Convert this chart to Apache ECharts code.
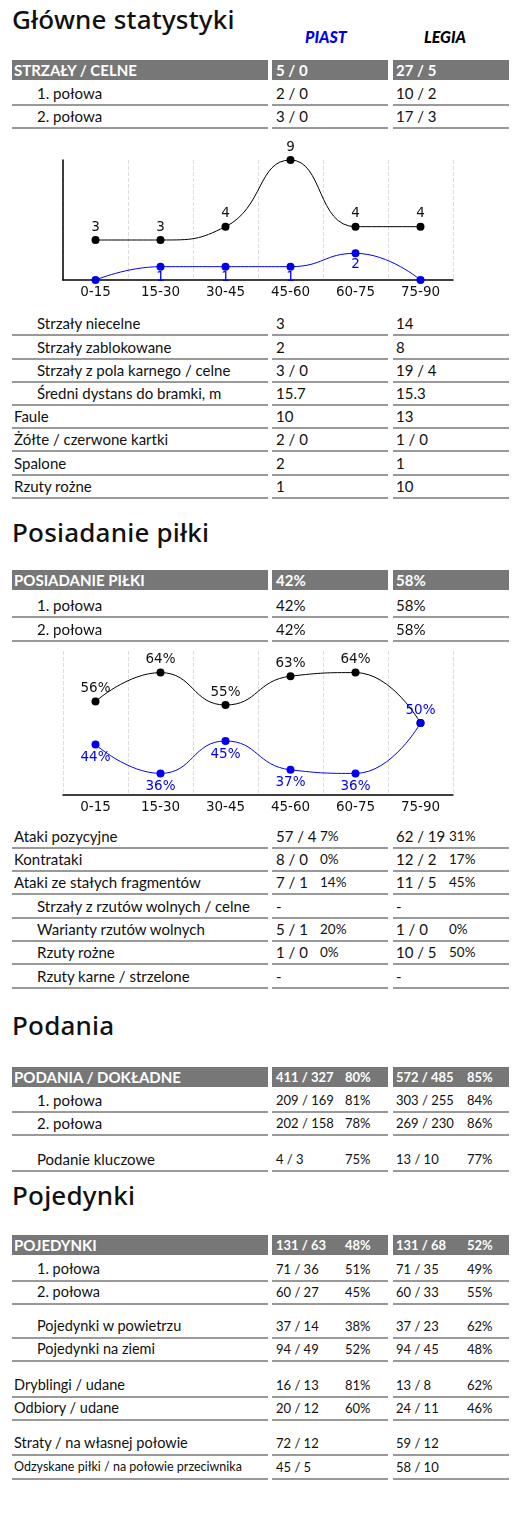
<!DOCTYPE html>
<html><head><meta charset="utf-8">
<script src="https://cdn.jsdelivr.net/npm/echarts@6/dist/echarts.min.js"></script>
<style>
body{margin:0;width:528px;height:1516px;position:relative;background:#fff;font-family:Lato,"Noto Sans",sans-serif;color:#111;overflow:hidden}
.t{position:absolute;white-space:nowrap}
.hdr{position:absolute;background:#777;height:20px}
.ln{position:absolute;height:2px;background:#999}
#c1{position:absolute;left:0;top:130px;width:528px;height:175px}
#c2{position:absolute;left:0;top:640px;width:528px;height:175px}
</style></head><body>
<div id="c1"></div><div id="c2"></div>
<script>
const titles=["Główne statystyki","Posiadanie piłki","Podania","Pojedynki"];
const teams=["PIAST","LEGIA"];
const periods=["0-15","15-30","30-45","45-60","60-75","75-90"];
const shotsPiast=[0,1,1,1,2,0];
const shotsLegia=[3,3,4,9,4,4];
const possPiast=[44,36,45,37,36,50];
const possLegia=[56,64,55,63,64,50];
// [label, indentLevel, piast, piastPct, legia, legiaPct]
const rows1=[["STRZAŁY / CELNE",0,"5 / 0","","27 / 5",""],["1. połowa",1,"2 / 0","","10 / 2",""],["2. połowa",1,"3 / 0","","17 / 3",""],
["Strzały niecelne",1,"3","","14",""],["Strzały zablokowane",1,"2","","8",""],["Strzały z pola karnego / celne",1,"3 / 0","","19 / 4",""],
["Średni dystans do bramki, m",1,"15.7","","15.3",""],["Faule",0,"10","","13",""],["Żółte / czerwone kartki",0,"2 / 0","","1 / 0",""],
["Spalone",0,"2","","1",""],["Rzuty rożne",0,"1","","10",""]];
const rows2=[["POSIADANIE PIŁKI",0,"42%","","58%",""],["1. połowa",1,"42%","","58%",""],["2. połowa",1,"42%","","58%",""],
["Ataki pozycyjne",0,"57 / 4","7%","62 / 19","31%"],["Kontrataki",0,"8 / 0","0%","12 / 2","17%"],["Ataki ze stałych fragmentów",0,"7 / 1","14%","11 / 5","45%"],
["Strzały z rzutów wolnych / celne",1,"-","","-",""],["Warianty rzutów wolnych",1,"5 / 1","20%","1 / 0","0%"],["Rzuty rożne",1,"1 / 0","0%","10 / 5","50%"],
["Rzuty karne / strzelone",1,"-","","-",""]];
const rows3=[["PODANIA / DOKŁADNE",0,"411 / 327","80%","572 / 485","85%"],["1. połowa",1,"209 / 169","81%","303 / 255","84%"],
["2. połowa",1,"202 / 158","78%","269 / 230","86%"],["Podanie kluczowe",1,"4 / 3","75%","13 / 10","77%"]];
const rows4=[["POJEDYNKI",0,"131 / 63","48%","131 / 68","52%"],["1. połowa",1,"71 / 36","51%","71 / 35","49%"],["2. połowa",1,"60 / 27","45%","60 / 33","55%"],
["Pojedynki w powietrzu",1,"37 / 14","38%","37 / 23","62%"],["Pojedynki na ziemi",1,"94 / 49","52%","94 / 45","48%"],
["Dryblingi / udane",0,"16 / 13","81%","13 / 8","62%"],["Odbiory / udane",0,"20 / 12","60%","24 / 11","46%"],
["Straty / na własnej połowie",0,"72 / 12","","59 / 12",""],["Odzyskane piłki / na połowie przeciwnika",0,"45 / 5","","58 / 10",""]];

// layout (kept separate from data)
const titleY=[20,533,1026,1196];
const ys1=[70,93,116,323,347,370,393,416,439,463,486];
const ys2=[580,605,629,836,859,882,906,929,952,976];
const ys3=[1077,1100,1123,1159];
const ys4=[1245,1269,1292,1326,1349,1385,1408,1443,1467];
const B=document.body;
function txt(x,y,s,style){const d=document.createElement('div');d.className='t';d.textContent=s;d.style.left=x+'px';d.style.top=(y-10)+'px';d.style.lineHeight='20px';Object.assign(d.style,style||{});B.appendChild(d);return d;}
titles.forEach((t,i)=>{txt(12,titleY[i],t,{fontSize:'26px',lineHeight:'30px',top:(titleY[i]-16)+'px',fontFamily:'"Noto Sans",Lato,sans-serif',fontWeight:'500',letterSpacing:'0.2px'});});
txt(305,37,teams[0],{fontStyle:'italic',fontWeight:'900',color:'#0000ee',fontSize:'16px'});
txt(424,37,teams[1],{fontStyle:'italic',fontWeight:'900',color:'#000',fontSize:'16px'});
const cols=[[12,268],[272,388],[393,509]];
function section(rows,ys,opt){
 rows.forEach((r,i)=>{const y=ys[i];const hdr=i===0;
  if(hdr){cols.forEach(c=>{const d=document.createElement('div');d.className='hdr';d.style.left=c[0]+'px';d.style.width=(c[1]-c[0])+'px';d.style.top=(y-10)+'px';B.appendChild(d);});}
  else{cols.forEach(c=>{const d=document.createElement('div');d.className='ln';d.style.left=c[0]+'px';d.style.width=(c[1]-c[0])+'px';d.style.top=(y+11)+'px';B.appendChild(d);});}
  const st=hdr?{color:'#fff',fontWeight:'700',fontSize:'15px'}:{fontSize:'15px'};
  let ls=Object.assign({},st);
  if(!hdr&&opt.labelSize)ls.fontSize=opt.labelSize;
  if(!hdr&&r[0].length>35)ls.fontSize='12.5px';
  txt(r[1]?37:14,y,r[0],ls);
  const vs=Object.assign({},st);if(opt.valSize)vs.fontSize=opt.valSize;
  const ps=Object.assign({},vs);if(opt.pctSize)ps.fontSize=opt.pctSize;
  txt(276,y,r[2],vs);txt(396,y,r[4],vs);
  if(r[3])txt(opt.pp,y,r[3],ps);
  if(r[5])txt(opt.lp,y,r[5],ps);
 });
}
section(rows1,ys1,{});
section(rows2,ys2,{pp:320,lp:449,valSize:'15px',pctSize:'13.5px'});
section(rows3,ys3,{pp:345,lp:467,valSize:'13px'});
section(rows4,ys4,{pp:345,lp:467,valSize:'13px',labelSize:'14.5px'});
const c1=echarts.init(document.getElementById('c1'));
c1.setOption({animation:false,grid:{left:63,right:75,top:30,bottom:25},
 xAxis:{type:'category',data:periods,axisTick:{show:false},axisLine:{lineStyle:{color:'#000',width:1.5}},
  axisLabel:{color:'#111',fontSize:13.5,fontFamily:'DejaVu Sans',margin:5},
  splitLine:{show:true,lineStyle:{type:'dashed',color:'#ddd'}}},
 yAxis:{type:'value',min:0,max:9,axisLine:{show:true,lineStyle:{color:'#000',width:1.5}},axisLabel:{show:false},splitLine:{show:false}},
 series:[{type:'line',data:shotsLegia,smooth:0.5,symbol:'circle',symbolSize:8,itemStyle:{color:'#000'},lineStyle:{color:'#000',width:1},
   label:{show:true,position:'top',color:'#111',fontSize:13.5,fontFamily:'DejaVu Sans',distance:2}},
  {type:'line',data:shotsPiast,smooth:0.5,symbol:'circle',symbolSize:8,itemStyle:{color:'#0000ee'},lineStyle:{color:'#0000ee',width:1},
   label:{show:true,position:'bottom',color:'#0000ee',fontSize:13.5,fontFamily:'DejaVu Sans',distance:0,formatter:p=>p.value?p.value:''}}]});
const c2=echarts.init(document.getElementById('c2'));
c2.setOption({animation:false,grid:{left:63,right:75,top:11,bottom:20},
 xAxis:{type:'category',data:periods,axisTick:{show:false},axisLine:{lineStyle:{color:'#000',width:1.5}},
  axisLabel:{color:'#111',fontSize:13.5,fontFamily:'DejaVu Sans',margin:5},
  splitLine:{show:true,lineStyle:{type:'dashed',color:'#ddd'}}},
 yAxis:{type:'value',min:30,max:70,axisLine:{show:false},axisLabel:{show:false},splitLine:{show:false}},
 series:[{type:'line',data:possLegia,smooth:0.5,symbol:'circle',symbolSize:8,itemStyle:{color:'#000'},lineStyle:{color:'#000',width:1},
   label:{show:true,position:'top',color:'#111',fontSize:13.5,fontFamily:'DejaVu Sans',distance:2,formatter:p=>p.dataIndex===5?'':p.value+'%'}},
  {type:'line',smooth:0.5,symbol:'circle',symbolSize:8,itemStyle:{color:'#0000ee'},lineStyle:{color:'#0000ee',width:1},
   label:{show:true,color:'#0000ee',fontSize:13.5,fontFamily:'DejaVu Sans',distance:2,formatter:p=>p.value+'%',position:'bottom'},
   data:possPiast.map((v,i)=>i===5?{value:v,label:{position:'top'}}:v)}]});
</script></body></html>
